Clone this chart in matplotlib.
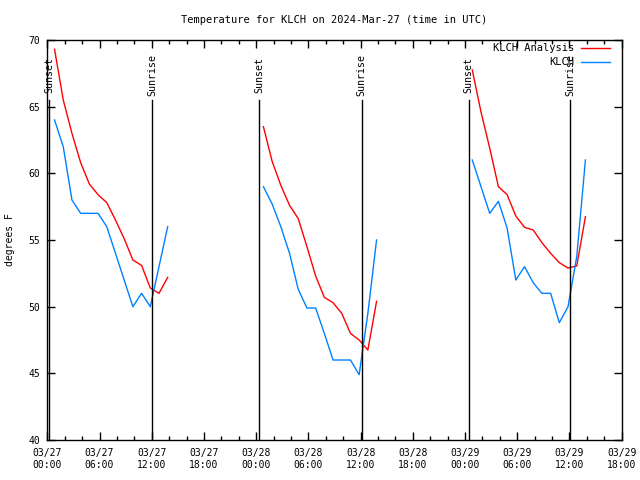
import pandas as pd
import matplotlib
matplotlib.use('Agg')
import matplotlib.pyplot as plt
import matplotlib.dates as mdates
from matplotlib.lines import Line2D

plt.rcParams['font.family'] = ['DejaVu Sans Mono']
plt.rcParams['font.size'] = 7

# first valid time of each night's run of hourly obs (UTC)
seg_starts = ['2024-03-27 00:50', '2024-03-28 00:50', '2024-03-29 00:50']

analysis_1 = [69.3, 65.5, 63.0, 60.8, 59.2, 58.4, 57.8, 56.5, 55.1, 53.5, 53.1, 51.4, 51.0, 52.2]
analysis_2 = [63.5, 60.9, 59.1, 57.6, 56.6, 54.5, 52.3, 50.7, 50.3, 49.5, 48.0, 47.5, 46.75, 50.4]
analysis_3 = [67.75, 64.6, 61.9, 59.0, 58.4, 56.8, 55.95, 55.75, 54.8, 54.0, 53.3, 52.9, 53.05, 56.75]

obs_1 = [64, 62, 58, 57, 57, 57, 56, 54, 52, 50, 51, 50, 53, 56]
obs_2 = [59, 57.7, 56, 54, 51.3, 49.9, 49.9, 48, 46, 46, 46, 44.9, 49.5, 55]
obs_3 = [61, 59, 57, 57.9, 55.9, 52, 53, 51.8, 51, 51, 48.8, 50, 53.75, 61]

sunsets = ['2024-03-27 00:14', '2024-03-28 00:22', '2024-03-29 00:24']
sunrises = ['2024-03-27 12:04', '2024-03-28 12:08', '2024-03-29 12:06']

RED = '#ff0000'
BLUE = '#0080ff'

fig = plt.figure(figsize=(6.4, 4.8), dpi=100)
ax = fig.add_axes([0.0739, 0.0833, 0.8975, 0.8334])

for start, an, ob in zip(seg_starts, [analysis_1, analysis_2, analysis_3], [obs_1, obs_2, obs_3]):
    t = pd.date_range(start, periods=len(an), freq='h')
    ax.plot(t, an, color=RED, lw=1)
    ax.plot(t, ob, color=BLUE, lw=1)

for label, times in [('Sunset', sunsets), ('Sunrise', sunrises)]:
    for s in times:
        ts = pd.Timestamp(s)
        ax.plot([ts, ts], [40, 65.5], color='black', lw=1)
        ax.text(ts, 67.4, label, rotation=90, ha='center', va='center', fontsize=7.2)

ax.set_xlim(pd.Timestamp('2024-03-27 00:00'), pd.Timestamp('2024-03-29 18:00'))
ax.set_ylim(40, 70)
ax.set_yticks(range(40, 71, 5))
ax.xaxis.set_major_locator(mdates.HourLocator(byhour=[0, 6, 12, 18]))
ax.xaxis.set_minor_locator(mdates.HourLocator(interval=2))
ax.xaxis.set_major_formatter(mdates.DateFormatter('%m/%d\n%H:%M'))
ax.tick_params(which='both', direction='in', top=True, right=True, width=1)
ax.tick_params(which='major', length=6, pad=6)
ax.tick_params(which='minor', length=3)
ax.tick_params(axis='y', pad=5)
for sp in ax.spines.values():
    sp.set_linewidth(1)

ax.set_ylabel('degrees F', labelpad=10)
ax.set_title('Temperature for KLCH on 2024-Mar-27 (time in UTC)', fontsize=7.5, pad=12)

# gnuplot-style key, text right-aligned left of the sample line
for i, (name, col) in enumerate([('KLCH Analysis', RED), ('KLCH', BLUE)]):
    y = 0.98 - i * 0.035
    ax.text(0.918, y, name, transform=ax.transAxes, ha='right', va='center', fontsize=7.5)
    ax.add_line(Line2D([0.929, 0.980], [y, y], transform=ax.transAxes, color=col, lw=1))

fig.savefig('out.png', dpi=100)
